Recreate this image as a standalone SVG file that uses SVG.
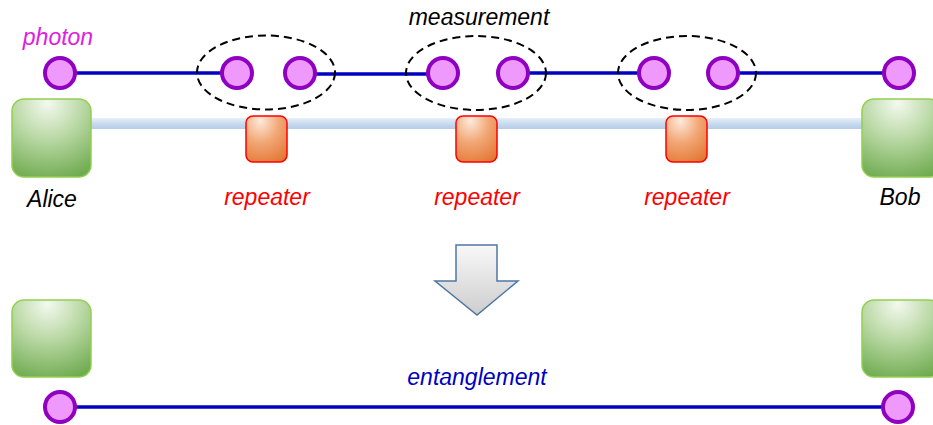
<svg xmlns="http://www.w3.org/2000/svg" width="933" height="425" viewBox="0 0 933 425">
<defs>
<radialGradient id="gG" cx="0.45" cy="0.1" r="1" fx="0.45" fy="0.05">
<stop offset="0" stop-color="#f4f9ef"/>
<stop offset="0.45" stop-color="#b9d8a4"/>
<stop offset="1" stop-color="#6aa84a"/>
</radialGradient>
<radialGradient id="oG" cx="0.35" cy="0.15" r="1" fx="0.35" fy="0.1">
<stop offset="0" stop-color="#fdeadc"/>
<stop offset="0.45" stop-color="#f2a877"/>
<stop offset="1" stop-color="#e2732f"/>
</radialGradient>
<linearGradient id="bG" x1="0" y1="0" x2="0" y2="1">
<stop offset="0" stop-color="#e6eff8"/>
<stop offset="0.6" stop-color="#c4d8ee"/>
<stop offset="1" stop-color="#b6cde8"/>
</linearGradient>
<linearGradient id="aG" x1="0" y1="0" x2="0" y2="1">
<stop offset="0" stop-color="#f8f8f8"/>
<stop offset="1" stop-color="#cdcdcd"/>
</linearGradient>
</defs>
<style>
.ph{fill:#ee99fb;stroke:#9000c0;stroke-width:4}
.ln{stroke:#0000c0;stroke-width:3.5;fill:none}
.el{fill:none;stroke:#000;stroke-width:2;stroke-dasharray:8 5}
.end{fill:url(#gG);stroke:#92d050;stroke-width:1.5}
.rep{fill:url(#oG);stroke:#ff0000;stroke-width:1.5}
.t{font-family:"Liberation Sans",Arial,sans-serif;font-style:italic;font-size:23px;text-anchor:middle}
</style>
<rect id="channel" x="90" y="118" width="774" height="11" fill="url(#bG)"/>
<g id="connectors">
<line class="ln" x1="60" y1="73" x2="237" y2="73"/>
<line class="ln" x1="300" y1="74" x2="443" y2="74"/>
<line class="ln" x1="513" y1="73" x2="654" y2="73"/>
<line class="ln" x1="723" y1="73" x2="899" y2="73"/>
<line class="ln" x1="60" y1="407" x2="898" y2="407"/>
</g>
<g id="alice">
<rect class="end" x="12" y="99" width="79" height="78" rx="12"/>
<text class="t" x="52" y="207" fill="#000">Alice</text>
</g>
<g id="bob">
<rect class="end" x="862" y="99" width="79" height="78" rx="12"/>
<text class="t" x="900" y="205" fill="#000">Bob</text>
</g>
<g id="repeater1">
<rect class="rep" x="246" y="116" width="41" height="46" rx="7"/>
<text class="t" x="267" y="205" fill="#ff0000">repeater</text>
</g>
<g id="repeater2">
<rect class="rep" x="456" y="116" width="41" height="46" rx="7"/>
<text class="t" x="477" y="205" fill="#ff0000">repeater</text>
</g>
<g id="repeater3">
<rect class="rep" x="666" y="116" width="41" height="46" rx="7"/>
<text class="t" x="687" y="205" fill="#ff0000">repeater</text>
</g>
<g id="photons">
<circle class="ph" cx="60" cy="73" r="15"/>
<circle class="ph" cx="237" cy="73" r="15"/>
<circle class="ph" cx="300" cy="73" r="15"/>
<circle class="ph" cx="443" cy="73" r="15"/>
<circle class="ph" cx="513" cy="73" r="15"/>
<circle class="ph" cx="654" cy="73" r="15"/>
<circle class="ph" cx="723" cy="73" r="15"/>
<circle class="ph" cx="899" cy="73" r="15"/>
<text class="t" x="58" y="45" fill="#e020e0">photon</text>
</g>
<g id="measurements">
<ellipse class="el" cx="266" cy="72.5" rx="69" ry="37"/>
<ellipse class="el" cx="476" cy="73" rx="70" ry="37"/>
<ellipse class="el" cx="687" cy="73" rx="69" ry="37"/>
<text class="t" x="479" y="25" fill="#000">measurement</text>
</g>
<g id="arrow">
<path d="M456,245 H497 V281 H518 L477,315 L435,281 H456 Z" fill="url(#aG)" stroke="#4f76a6" stroke-width="1.5" stroke-linejoin="miter"/>
</g>
<g id="alice2">
<rect class="end" x="12" y="300" width="79" height="77" rx="12"/>
</g>
<g id="bob2">
<rect class="end" x="862" y="300" width="79" height="77" rx="12"/>
</g>
<g id="entangled">
<circle class="ph" cx="60" cy="407" r="15"/>
<circle class="ph" cx="898" cy="407" r="15"/>
<text class="t" x="477" y="385" fill="#0000c0">entanglement</text>
</g>
</svg>
